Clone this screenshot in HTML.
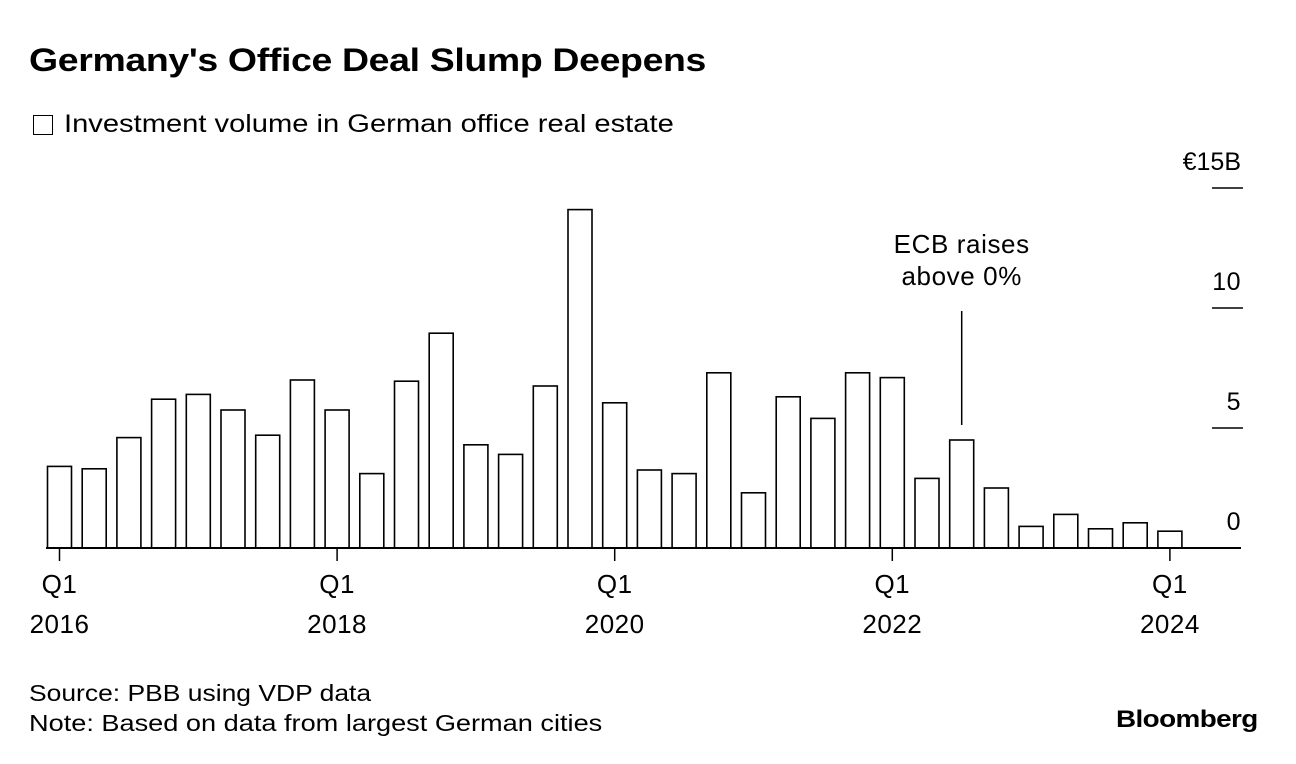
<!DOCTYPE html>
<html><head><meta charset="utf-8"><style>
html,body{margin:0;padding:0;background:#fff;}
body{width:1296px;height:764px;position:relative;overflow:hidden;font-family:"Liberation Sans",sans-serif;color:#000;}
.t{position:absolute;white-space:nowrap;transform-origin:0 0;}
</style></head><body>
<div class="t" style="left:29px;top:42px;font-size:32px;font-weight:bold;letter-spacing:-0.3px;transform:scaleX(1.17);">Germany's Office Deal Slump Deepens</div>
<div style="position:absolute;left:33px;top:115px;width:20px;height:20px;border:1.5px solid #000;box-sizing:border-box;"></div>
<div class="t" style="left:64px;top:110px;font-size:25px;transform:scaleX(1.165);">Investment volume in German office real estate</div>
<svg id="chart" width="1296" height="764" style="position:absolute;left:0;top:0;font-family:'Liberation Sans',sans-serif;"></svg>
<div class="t" style="left:29px;top:680px;font-size:23px;transform:scaleX(1.15);">Source: PBB using VDP data</div>
<div class="t" style="left:29px;top:710px;font-size:23px;transform:scaleX(1.18);">Note: Based on data from largest German cities</div>
<div class="t" style="left:1116px;top:706px;font-size:24px;font-weight:bold;letter-spacing:-0.5px;transform:scaleX(1.16);">Bloomberg</div>
<script>
const values=[3.4,3.3,4.6,6.2,6.4,5.75,4.7,7.0,5.75,3.1,6.95,8.95,4.3,3.9,6.75,14.1,6.05,3.25,3.1,7.3,2.3,6.3,5.4,7.3,7.1,2.9,4.5,2.5,0.9,1.4,0.8,1.05,0.7];
const yTicks=[0,5,10,15];
const yTickLabels=['0','5','10','€15B'];
const xTickIdx=[0,8,16,24,32];
const xTickLabels=[['Q1','2016'],['Q1','2018'],['Q1','2020'],['Q1','2022'],['Q1','2024']];
const annotIdx=26;
const NS='http://www.w3.org/2000/svg';
const svg=document.getElementById('chart');
const x0=59.5,step=34.7,bw=24;
const xS=i=>x0+i*step;
const yS=v=>548-v*24;
function mk(t,a){const e=document.createElementNS(NS,t);for(const k in a)e.setAttribute(k,a[k]);svg.appendChild(e);return e;}
values.forEach((v,i)=>{
 const r=mk('rect',{x:xS(i)-bw/2,y:yS(v),width:bw,height:548-yS(v),fill:'#fff',stroke:'#000','stroke-width':1.6});
 
 
});
yTicks.forEach((t,i)=>{
 if(t>0){const l=mk('line',{x1:1212,x2:1243,y1:yS(t),y2:yS(t),stroke:'#000','stroke-width':1.5});
 
 }
 const tx=mk('text',{x:1241,y:yS(t)-18,'text-anchor':'end','font-size':25,'letter-spacing':t===15?'0':'0.5'});
 tx.textContent=yTickLabels[i];
 
 
});
const ax=mk('line',{x1:46,x2:1241,y1:548,y2:548,stroke:'#000','stroke-width':2});


xTickIdx.forEach((q,i)=>{
 const x=xS(q);
 const tk=mk('line',{x1:x,x2:x,y1:548,y2:561,stroke:'#000','stroke-width':1.5});
 
 
 xTickLabels[i].forEach((s,j)=>{
  const t=mk('text',{x:x,y:593+j*40,'text-anchor':'middle','font-size':26,'letter-spacing':'0.5'});
  t.textContent=s;
  
  
 });
});
const ax2=xS(annotIdx);
const al=mk('line',{x1:ax2,x2:ax2,y1:311,y2:425,stroke:'#000','stroke-width':1.5});


['ECB raises','above 0%'].forEach((s,j)=>{
 const t=mk('text',{x:ax2,y:253+j*32,'text-anchor':'middle','font-size':26,'letter-spacing':'0.6'});
 t.textContent=s;
 
 
});
</script>
</body></html>
